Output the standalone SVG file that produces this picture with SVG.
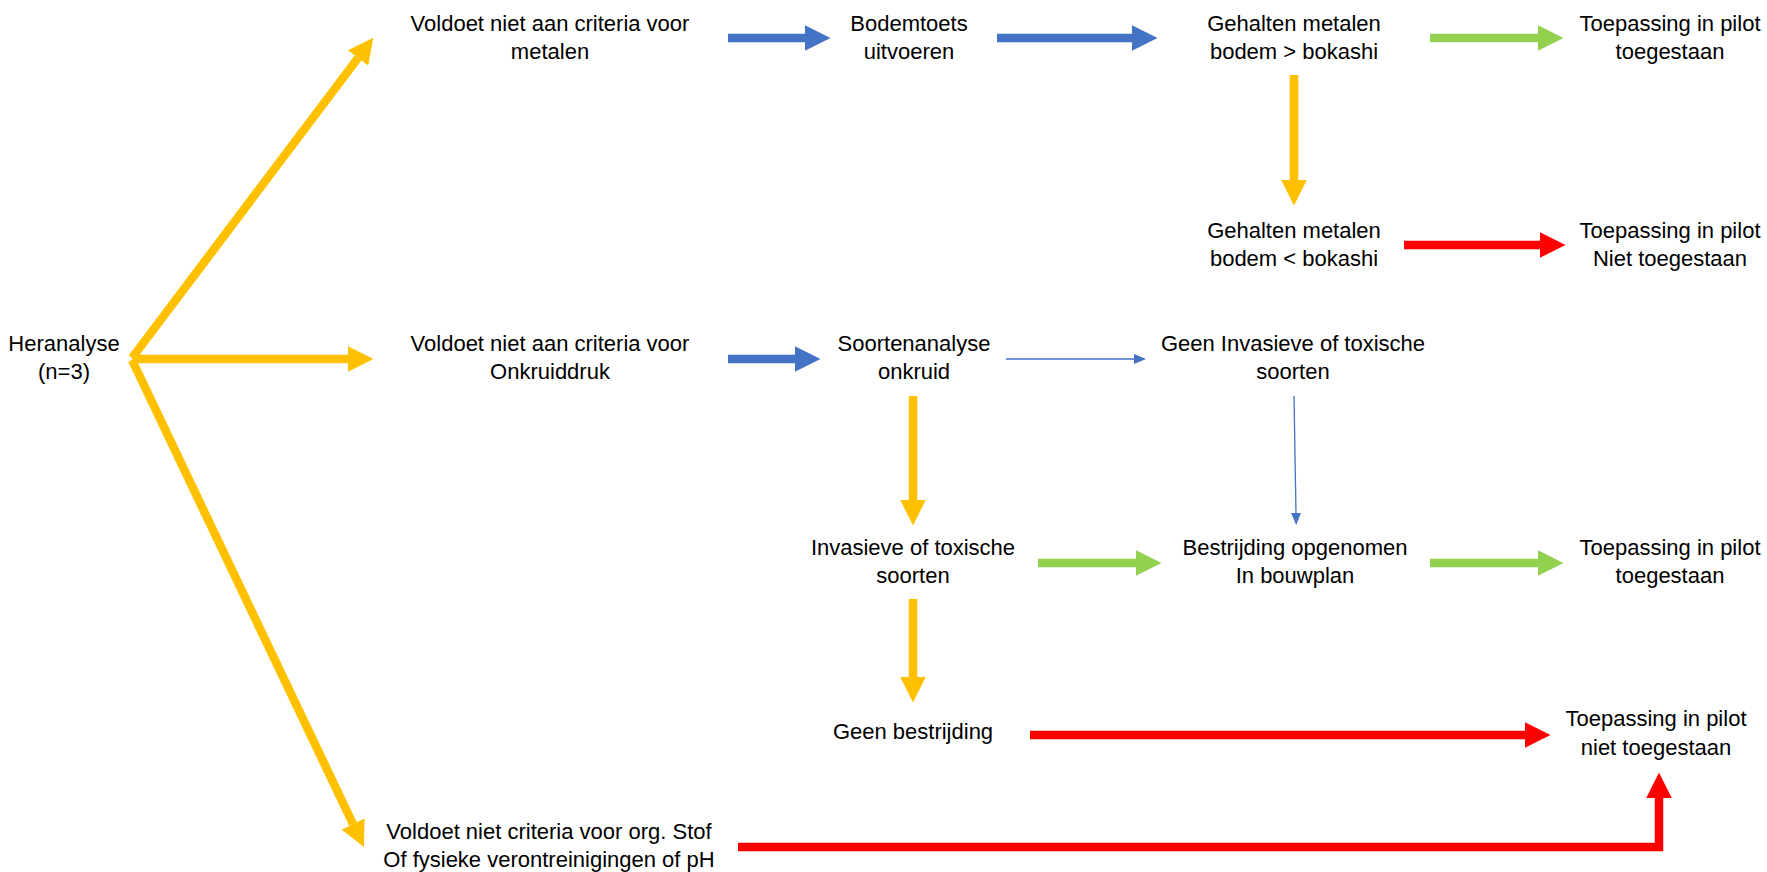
<svg xmlns="http://www.w3.org/2000/svg" width="1767" height="872" viewBox="0 0 1767 872">
<style>
text{font-family:"Liberation Sans",Arial,sans-serif;font-size:22px;fill:#000;text-anchor:middle}
.thick{fill:none;stroke-width:8.5;stroke-linecap:butt;stroke-linejoin:miter}
.y{stroke:#FFC000}.b{stroke:#4472C4}.g{stroke:#92D050}.r{stroke:#FF0000}
.thin{fill:none;stroke:#4472C4;stroke-width:1.3}
</style>
<defs>
<marker id="hy" viewBox="0 0 3 3" refX="0" refY="1.5" markerWidth="3" markerHeight="3" orient="auto" markerUnits="strokeWidth"><path d="M0,0L3,1.5L0,3z" fill="#FFC000"/></marker>
<marker id="hb" viewBox="0 0 3 3" refX="0" refY="1.5" markerWidth="3" markerHeight="3" orient="auto" markerUnits="strokeWidth"><path d="M0,0L3,1.5L0,3z" fill="#4472C4"/></marker>
<marker id="hg" viewBox="0 0 3 3" refX="0" refY="1.5" markerWidth="3" markerHeight="3" orient="auto" markerUnits="strokeWidth"><path d="M0,0L3,1.5L0,3z" fill="#92D050"/></marker>
<marker id="hr" viewBox="0 0 3 3" refX="0" refY="1.5" markerWidth="3" markerHeight="3" orient="auto" markerUnits="strokeWidth"><path d="M0,0L3,1.5L0,3z" fill="#FF0000"/></marker>
<marker id="ht" viewBox="0 0 12 10" refX="0" refY="5" markerWidth="12" markerHeight="10" orient="auto" markerUnits="userSpaceOnUse"><path d="M0,0L12,5L0,10z" fill="#4472C4"/></marker>
</defs>
<g id="connectors">
<path class="thick y" d="M132,358L358,58" marker-end="url(#hy)"/>
<path class="thick y" d="M132,359L348,359" marker-end="url(#hy)"/>
<path class="thick y" d="M132,360L353,824" marker-end="url(#hy)"/>
<path class="thick b" d="M728,38L805,38" marker-end="url(#hb)"/>
<path class="thick b" d="M997,38L1132,38" marker-end="url(#hb)"/>
<path class="thick g" d="M1430,38L1538,38" marker-end="url(#hg)"/>
<path class="thick y" d="M1294,75L1294,180" marker-end="url(#hy)"/>
<path class="thick r" d="M1404,245L1540,245" marker-end="url(#hr)"/>
<path class="thick b" d="M728,359L795,359" marker-end="url(#hb)"/>
<path class="thin" d="M1006,359L1134,359" marker-end="url(#ht)"/>
<path class="thin" d="M1294,396L1296,513" marker-end="url(#ht)"/>
<path class="thick y" d="M913,396L913,500" marker-end="url(#hy)"/>
<path class="thick g" d="M1038,563L1136,563" marker-end="url(#hg)"/>
<path class="thick g" d="M1430,563L1538,563" marker-end="url(#hg)"/>
<path class="thick y" d="M913,599L913,677" marker-end="url(#hy)"/>
<path class="thick r" d="M1030,735L1525,735" marker-end="url(#hr)"/>
<path class="thick r" d="M738,847L1659,847L1659,798" marker-end="url(#hr)"/>
</g>
<g id="heranalyse"><text x="64" y="351">Heranalyse</text><text x="64" y="379">(n=3)</text></g>
<g id="metalen"><text x="550" y="31">Voldoet niet aan criteria voor</text><text x="550" y="59">metalen</text></g>
<g id="onkruiddruk"><text x="550" y="351">Voldoet niet aan criteria voor</text><text x="550" y="379">Onkruiddruk</text></g>
<g id="orgstof"><text x="549" y="839">Voldoet niet criteria voor org. Stof</text><text x="549" y="867">Of fysieke verontreinigingen of pH</text></g>
<g id="bodemtoets"><text x="909" y="31">Bodemtoets</text><text x="909" y="59">uitvoeren</text></g>
<g id="gehalten-hoger"><text x="1294" y="31">Gehalten metalen</text><text x="1294" y="59">bodem &gt; bokashi</text></g>
<g id="toegestaan1"><text x="1670" y="31">Toepassing in pilot</text><text x="1670" y="59">toegestaan</text></g>
<g id="gehalten-lager"><text x="1294" y="238">Gehalten metalen</text><text x="1294" y="266">bodem &lt; bokashi</text></g>
<g id="niet-toegestaan1"><text x="1670" y="238">Toepassing in pilot</text><text x="1670" y="266">Niet toegestaan</text></g>
<g id="soortenanalyse"><text x="914" y="351">Soortenanalyse</text><text x="914" y="379">onkruid</text></g>
<g id="geen-invasieve"><text x="1293" y="351">Geen Invasieve of toxische</text><text x="1293" y="379">soorten</text></g>
<g id="invasieve"><text x="913" y="555">Invasieve of toxische</text><text x="913" y="583">soorten</text></g>
<g id="bestrijding"><text x="1295" y="555">Bestrijding opgenomen</text><text x="1295" y="583">In bouwplan</text></g>
<g id="toegestaan2"><text x="1670" y="555">Toepassing in pilot</text><text x="1670" y="583">toegestaan</text></g>
<g id="geen-bestrijding"><text x="913" y="739">Geen bestrijding</text></g>
<g id="niet-toegestaan2"><text x="1656" y="726">Toepassing in pilot</text><text x="1656" y="755">niet toegestaan</text></g>
</svg>
